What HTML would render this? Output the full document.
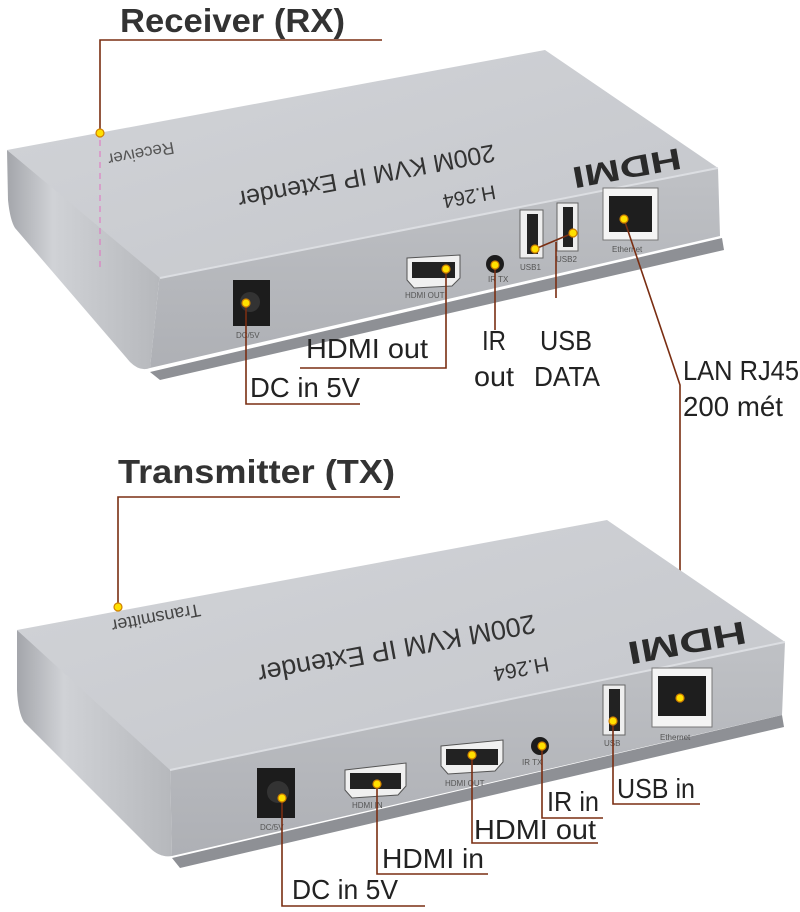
<!DOCTYPE html>
<html><head><meta charset="utf-8"><style>
html,body{margin:0;padding:0;background:#fff;}
svg{display:block;}
.lbl{font-family:"Liberation Sans Narrow","Liberation Sans",sans-serif;fill:#222;}
.title{font-family:"Liberation Sans Narrow","Liberation Sans",sans-serif;font-weight:bold;fill:#333;}
.ln{stroke:#7a2e12;stroke-width:1.6;fill:none;}
.dot{fill:#ffe000;stroke:#d08000;stroke-width:1.2;}
.prt{font-family:"Liberation Sans",sans-serif;fill:#555;}
</style></head><body>
<svg width="800" height="912" viewBox="0 0 800 912" xmlns="http://www.w3.org/2000/svg">
<defs>
<linearGradient id="top" x1="0" y1="0" x2="1" y2="1"><stop offset="0" stop-color="#d2d4d8"/><stop offset="1" stop-color="#c4c6cb"/></linearGradient>
<linearGradient id="front" x1="0" y1="0" x2="0" y2="1"><stop offset="0" stop-color="#bfc1c5"/><stop offset="1" stop-color="#aeb0b5"/></linearGradient>
<linearGradient id="side" x1="0" y1="0" x2="1" y2="0"><stop offset="0" stop-color="#a4a6ab"/><stop offset="0.3" stop-color="#d0d2d6"/><stop offset="1" stop-color="#b6b8bc"/></linearGradient>
</defs>

<!-- ============ RECEIVER ============ -->
<text class="title" x="120" y="32" font-size="33" textLength="225" lengthAdjust="spacingAndGlyphs">Receiver (RX)</text>
<path class="ln" d="M382 40 H100 V133"/>
<path d="M150 372 L722 238 L724 250 L160 380 Z" fill="#8e9095"/>
<path d="M7 150 L160 272 L150 368 Q140 372 130 362 L15 228 Q10 220 8 200 Z" fill="url(#side)"/>
<path d="M160 272 L718 168 L720 236 L150 368 Z" fill="url(#front)"/>
<path d="M7 150 L545 50 L718 168 L160 278 Z" fill="url(#top)"/>
<path d="M160 278 L718 168" stroke="#dcdee2" stroke-width="2"/>
<line x1="100" y1="140" x2="100" y2="270" stroke="#e070c0" stroke-width="1" stroke-dasharray="6 5"/>
<g transform="translate(140,148) rotate(169.5)"><text class="prt" font-size="17" text-anchor="middle" fill="#444">Receiver</text></g>
<g transform="translate(365,168) rotate(169.5)"><text class="prt" font-size="25" text-anchor="middle" style="fill:#333">200M KVM IP Extender</text></g>
<g transform="translate(468,190) rotate(169.5)"><text class="prt" font-size="20" text-anchor="middle" style="fill:#333">H.264</text></g>
<g transform="translate(625,158) rotate(169.5)"><text font-family="Liberation Sans" font-weight="bold" font-size="30" text-anchor="middle" fill="#2a2a2a" textLength="110" lengthAdjust="spacingAndGlyphs">HDMI</text></g>
<rect x="233" y="280" width="37" height="46" fill="#1c1c1c"/><circle cx="250" cy="302" r="10" fill="#333"/>
<path d="M407 258 L460 255 L460 278 L452 286 L414 288 L407 280 Z" fill="#f0f0f0" stroke="#555"/><rect x="412" y="262" width="43" height="16" fill="#222"/>
<circle cx="495" cy="264" r="9" fill="#1c1c1c"/>
<rect x="520" y="210" width="23" height="48" fill="#eee" stroke="#666"/><rect x="527" y="214" width="11" height="40" fill="#222"/>
<rect x="557" y="203" width="21" height="48" fill="#eee" stroke="#666"/><rect x="563" y="207" width="10" height="40" fill="#222"/>
<rect x="603" y="188" width="55" height="52" fill="#f4f4f4" stroke="#777"/><rect x="609" y="196" width="43" height="36" fill="#1e1e1e"/>
<text class="prt" x="405" y="298" font-size="8">HDMI OUT</text>
<text class="prt" x="488" y="282" font-size="8">IR TX</text>
<text class="prt" x="520" y="270" font-size="8">USB1</text>
<text class="prt" x="556" y="262" font-size="8">USB2</text>
<text class="prt" x="612" y="252" font-size="8">Ethernet</text>
<text class="prt" x="236" y="338" font-size="8">DC/5V</text>
<path class="ln" d="M446 269 V368 H300"/>
<path class="ln" d="M246 303 V404 H360"/>
<path class="ln" d="M495 265 V330"/>
<path class="ln" d="M535 249 L573 233 M556 242 V298"/>
<path class="ln" d="M624 219 L680 385 V698"/>
<circle class="dot" cx="100" cy="133" r="4"/>
<circle class="dot" cx="446" cy="269" r="4"/>
<circle class="dot" cx="246" cy="303" r="4"/>
<circle class="dot" cx="495" cy="265" r="4"/>
<circle class="dot" cx="535" cy="249" r="4"/>
<circle class="dot" cx="573" cy="233" r="4"/>
<circle class="dot" cx="624" cy="219" r="4"/>
<text class="lbl" x="306" y="358" font-size="28" textLength="122" lengthAdjust="spacingAndGlyphs">HDMI out</text>
<text class="lbl" x="250" y="397" font-size="28" textLength="110" lengthAdjust="spacingAndGlyphs">DC in 5V</text>
<text class="lbl" x="482" y="350" font-size="28" textLength="24" lengthAdjust="spacingAndGlyphs">IR</text>
<text class="lbl" x="474" y="386" font-size="28" textLength="40" lengthAdjust="spacingAndGlyphs">out</text>
<text class="lbl" x="540" y="350" font-size="28" textLength="52" lengthAdjust="spacingAndGlyphs">USB</text>
<text class="lbl" x="534" y="386" font-size="28" textLength="66" lengthAdjust="spacingAndGlyphs">DATA</text>
<text class="lbl" x="683" y="380" font-size="28" textLength="116" lengthAdjust="spacingAndGlyphs">LAN RJ45</text>
<text class="lbl" x="683" y="416" font-size="28" textLength="100" lengthAdjust="spacingAndGlyphs">200 mét</text>

<!-- ============ TRANSMITTER ============ -->
<text class="title" x="118" y="483" font-size="33" textLength="277" lengthAdjust="spacingAndGlyphs">Transmitter (TX)</text>
<path class="ln" d="M400 497 H118 V607"/>
<path d="M172 858 L782 715 L784 727 L180 868 Z" fill="#8e9095"/>
<path d="M17 630 L170 765 L172 856 Q160 858 150 848 L24 722 Q18 712 17 690 Z" fill="url(#side)"/>
<path d="M170 765 L785 642 L782 715 L172 856 Z" fill="url(#front)"/>
<path d="M17 630 L607 520 L785 642 L170 770 Z" fill="url(#top)"/>
<path d="M170 770 L785 642" stroke="#dcdee2" stroke-width="2"/>
<g transform="translate(155,612) rotate(169.5)"><text class="prt" font-size="18" text-anchor="middle" style="fill:#444">Transmitter</text></g>
<g transform="translate(395,640) rotate(169.5)"><text class="prt" font-size="27" text-anchor="middle" style="fill:#333">200M KVM IP Extender</text></g>
<g transform="translate(520,662) rotate(169.5)"><text class="prt" font-size="21" text-anchor="middle" style="fill:#333">H.264</text></g>
<g transform="translate(685,632) rotate(169.5)"><text font-family="Liberation Sans" font-weight="bold" font-size="32" text-anchor="middle" fill="#2a2a2a" textLength="120" lengthAdjust="spacingAndGlyphs">HDMI</text></g>
<rect x="257" y="768" width="38" height="50" fill="#1c1c1c"/><circle cx="278" cy="792" r="11" fill="#333"/>
<path d="M345 770 L406 763 L406 786 L398 795 L352 798 L345 790 Z" fill="#f0f0f0" stroke="#555"/><rect x="350" y="773" width="51" height="16" fill="#222"/>
<path d="M441 746 L503 740 L503 762 L495 771 L448 774 L441 766 Z" fill="#f0f0f0" stroke="#555"/><rect x="446" y="749" width="52" height="16" fill="#222"/>
<circle cx="540" cy="746" r="9" fill="#1c1c1c"/>
<rect x="603" y="685" width="22" height="50" fill="#eee" stroke="#666"/><rect x="609" y="689" width="11" height="42" fill="#222"/>
<rect x="652" y="668" width="60" height="59" fill="#f4f4f4" stroke="#777"/><rect x="658" y="676" width="48" height="40" fill="#1e1e1e"/>
<text class="prt" x="260" y="830" font-size="8">DC/5V</text>
<text class="prt" x="352" y="808" font-size="8">HDMI IN</text>
<text class="prt" x="445" y="786" font-size="8">HDMI OUT</text>
<text class="prt" x="522" y="765" font-size="8">IR TX</text>
<text class="prt" x="604" y="746" font-size="8">USB</text>
<text class="prt" x="660" y="740" font-size="8">Ethernet</text>
<path class="ln" d="M282 798 V906 H425"/>
<path class="ln" d="M377 784 V874 H488"/>
<path class="ln" d="M472 755 V843 H598"/>
<path class="ln" d="M542 746 V818 H603"/>
<path class="ln" d="M613 721 V804 H700"/>
<circle class="dot" cx="118" cy="607" r="4"/>
<circle class="dot" cx="282" cy="798" r="4"/>
<circle class="dot" cx="377" cy="784" r="4"/>
<circle class="dot" cx="472" cy="755" r="4"/>
<circle class="dot" cx="542" cy="746" r="4"/>
<circle class="dot" cx="613" cy="721" r="4"/>
<circle class="dot" cx="680" cy="698" r="4"/>
<text class="lbl" x="617" y="798" font-size="28" textLength="78" lengthAdjust="spacingAndGlyphs">USB in</text>
<text class="lbl" x="547" y="811" font-size="28" textLength="52" lengthAdjust="spacingAndGlyphs">IR in</text>
<text class="lbl" x="474" y="839" font-size="28" textLength="122" lengthAdjust="spacingAndGlyphs">HDMI out</text>
<text class="lbl" x="382" y="868" font-size="28" textLength="102" lengthAdjust="spacingAndGlyphs">HDMI in</text>
<text class="lbl" x="292" y="899" font-size="28" textLength="106" lengthAdjust="spacingAndGlyphs">DC in 5V</text>
</svg>
</body></html>
